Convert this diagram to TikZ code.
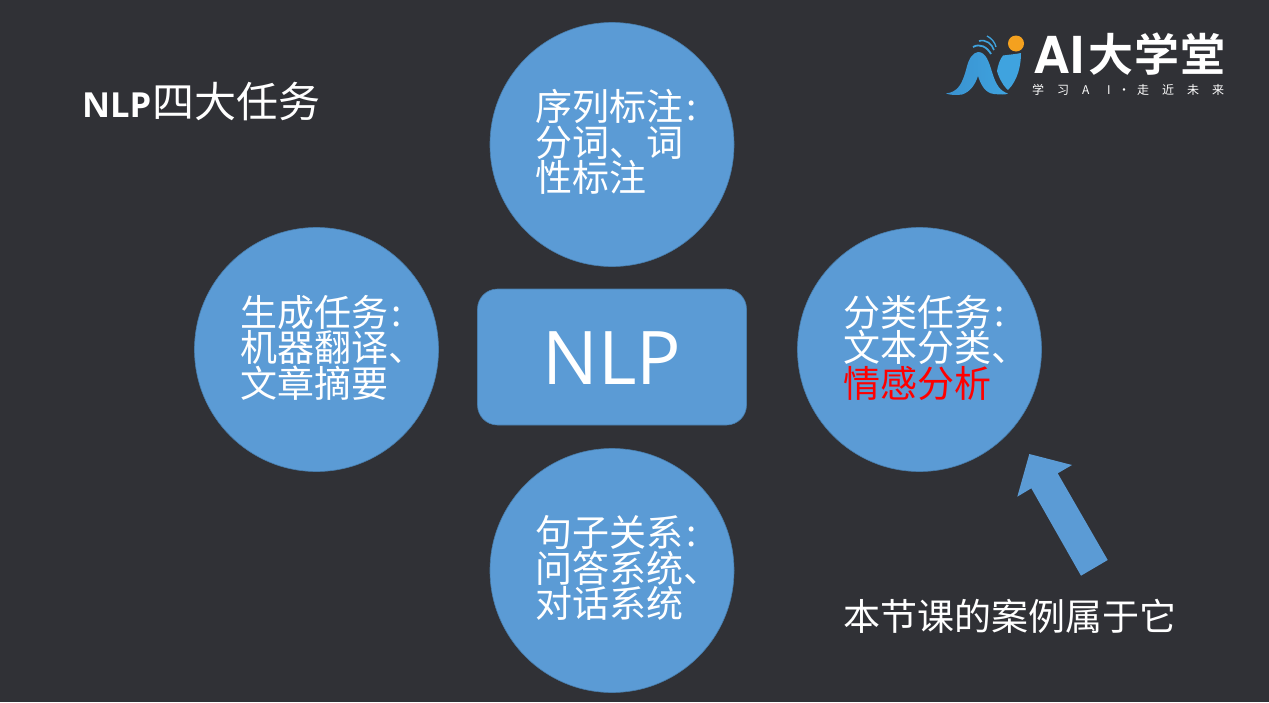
\documentclass[tikz,border=0pt]{standalone}
\usepackage{fontspec}
\setmainfont{Open Sans}
\newfontfamily\cjk{Noto Sans CJK SC}
\newfontfamily\cjkb[BoldFont={Noto Sans CJK SC Bold}]{Noto Sans CJK SC}
\newfontfamily\opensans{Open Sans}
\newfontfamily\heros{TeX Gyre Heros}
\definecolor{bgc}{HTML}{303136}
\definecolor{blu}{HTML}{5B9BD5}
\definecolor{bled}{HTML}{41719C}
\definecolor{lg}{HTML}{3FA3DF}
\definecolor{lgd}{HTML}{3A92D0}
\definecolor{org}{HTML}{F4A11F}
\newcommand{\mycolon}{\hspace{3pt}:}
\newcommand{\slot}[2]{\makebox[#1pt][l]{#2}}
\tikzset{
  topic/.style={circle,fill=blu,draw=bled!70!blu,line width=.6pt,minimum size=244pt,inner sep=0pt},
  lbl/.style={text=white,align=left,anchor=west,inner sep=0pt,font=\fontsize{37}{35.5}\selectfont\cjk},
  plain/.style={text=white,anchor=west,inner sep=0pt}
}
\begin{document}
\begin{tikzpicture}[x=1pt,y=-1pt]
\useasboundingbox (0,0) rectangle (1269,702);
\fill[bgc] (0,0) rectangle (1269,702);
% circles
\node[topic] (top) at (612,144.5) {};
\node[topic] (left) at (316.5,349.5) {};
\node[topic] (right) at (919.5,349.5) {};
\node[topic] (bottom) at (612,570.5) {};
\node[draw=bled!70!blu,fill=blu,line width=.6pt,rounded corners=20pt,minimum width=269pt,minimum height=136pt,inner sep=0pt] (core) at (612,357) {};
\node[text=white,inner sep=0pt,font=\fontsize{74}{74}\selectfont\opensans] (corelabel) at (612,358) {NLP};
% labels
\node[lbl] (t1) at (535,142) {序列标注\mycolon\\分词、词\\性标注};
\node[lbl] (t2) at (240.5,347.5) {生成任务\mycolon\\机器翻译、\\文章摘要};
\node[lbl] (t3) at (843.5,347.5) {分类任务\mycolon\\文本分类、\\\textcolor{red}{情感分析}};
\node[lbl] (t4) at (535,568) {句子关系\mycolon\\问答系统、\\对话系统};
% title
\node[plain] (title) at (82,102) {\fontsize{34.5}{36}\selectfont\opensans\bfseries NLP\hspace{1pt}\fontsize{42}{42}\selectfont\cjk\mdseries 四大任务};
\node[plain] (note) at (843,616.5) {\fontsize{37}{37}\selectfont\cjk 本节课的案例属于它};
% arrow
\fill[blu] (1029.3,454) -- (1072,465) -- (1057.7,473.3) -- (1107.7,560) -- (1081,575.7) -- (1031.3,488.3) -- (1017.3,496.7) -- cycle;
% logo
\shade[left color=lgd,right color=lg] (946,93.5) .. controls (958,92) and (962,84) .. (966,70) .. controls (969,57) and (973,53) .. (978,52) .. controls (986,52) and (989,62) .. (992,72) .. controls (996,85) and (1000,91) .. (1008,93.5) .. controls (1005,95) and (1000,94.5) .. (994,94) .. controls (985,93) and (981,85) .. (978,76) .. controls (975,85) and (970,92) .. (962,94.5) .. controls (956,95.5) and (950,95) .. (946,93.5) -- cycle;
\fill[lg] (1003,55.5) .. controls (1010,54.5) and (1017,54) .. (1021,53) .. controls (1021,65) and (1018,80) .. (1008,90) .. controls (1002,85) and (998,75) .. (997,71) .. controls (998,65) and (1000,59) .. (1003,55.5) -- cycle;
\fill[org] (1016,43.5) circle (8);
\draw[lg,line width=1.8pt] (973,47) .. controls (980,43) and (987,47) .. (991,54);
\draw[lg,line width=1.6pt] (979,41) .. controls (986,39) and (992,44) .. (994,50);
\draw[lg,line width=1.3pt] (987,36) .. controls (991,38) and (995,42) .. (996,47);
\node[plain,anchor=base west] (brandA) at (1033,73.5) {\fontsize{51}{52}\selectfont\heros\bfseries AI};
\node[plain,anchor=base west] (brandB) at (1088.5,71) {\fontsize{45}{47}\selectfont\cjkb\bfseries 大\hspace{1pt}学\hspace{1pt}堂};
\node[plain,anchor=base west] (slogan) at (1032,94) {\fontsize{12}{13}\selectfont\cjk \slot{25}{学}\slot{25}{习}\slot{25}{A}\slot{11}{I}\slot{19}{·}\slot{25}{走}\slot{25}{近}\slot{25}{未}\slot{12}{来}};
\end{tikzpicture}
\end{document}
